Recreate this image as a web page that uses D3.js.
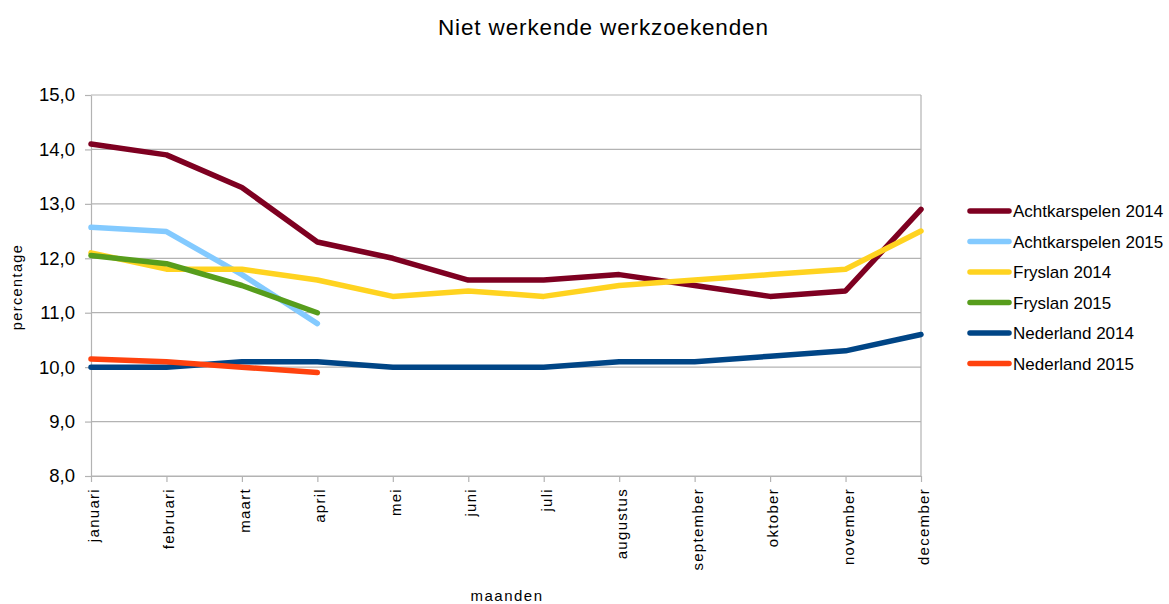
<!DOCTYPE html>
<html>
<head>
<meta charset="utf-8">
<script src="https://cdn.jsdelivr.net/npm/d3@7"></script>
<style>
  body { margin: 0; background: #fff; }
  text { font-family: "Liberation Sans", Arial, sans-serif; fill: #000; }
</style>
</head>
<body>
<svg id="chart" width="1169" height="604"></svg>
<script>
const months = ['januari', 'februari', 'maart', 'april', 'mei', 'juni', 'juli',
  'augustus', 'september', 'oktober', 'november', 'december'];
const yTicks = [8, 9, 10, 11, 12, 13, 14, 15];

const achtkarspelen2014 = [14.1, 13.9, 13.3, 12.3, 12.0, 11.6, 11.6, 11.7, 11.5, 11.3, 11.4, 12.9];
const achtkarspelen2015 = [12.57, 12.49, 11.7, 10.8];
const fryslan2014 = [12.1, 11.8, 11.8, 11.6, 11.3, 11.4, 11.3, 11.5, 11.6, 11.7, 11.8, 12.5];
const fryslan2015 = [12.05, 11.9, 11.5, 11.0];
const nederland2014 = [10.0, 10.0, 10.1, 10.1, 10.0, 10.0, 10.0, 10.1, 10.1, 10.2, 10.3, 10.6];
const nederland2015 = [10.15, 10.1, 10.0, 9.9];

const series = [
  { name: 'Achtkarspelen 2014', color: '#7e0021', values: achtkarspelen2014 },
  { name: 'Achtkarspelen 2015', color: '#83caff', values: achtkarspelen2015 },
  { name: 'Fryslan 2014', color: '#ffd320', values: fryslan2014 },
  { name: 'Fryslan 2015', color: '#579d1c', values: fryslan2015 },
  { name: 'Nederland 2014', color: '#004586', values: nederland2014 },
  { name: 'Nederland 2015', color: '#ff420e', values: nederland2015 }
];

const svg = d3.select('#chart');
const plotL = 91, plotR = 921, plotT = 95, plotB = 476;

const x = d3.scalePoint().domain(months).range([plotL, plotR]);
const y = d3.scaleLinear().domain([8, 15]).range([plotB, plotT]);
const fmt = d => d3.format('.1f')(d).replace('.', ',');

// grid
svg.append('g').selectAll('line')
  .data(yTicks)
  .join('line')
  .attr('x1', plotL).attr('x2', plotR)
  .attr('y1', d => y(d)).attr('y2', d => y(d))
  .attr('stroke', '#b3b3b3').attr('stroke-width', 1.2);

svg.append('line')
  .attr('x1', plotR).attr('x2', plotR).attr('y1', plotT).attr('y2', plotB)
  .attr('stroke', '#b3b3b3').attr('stroke-width', 1.2);

// y axis
const yAxis = svg.append('g')
  .attr('transform', `translate(${plotL},0)`)
  .call(d3.axisLeft(y).tickValues(yTicks).tickFormat(fmt).tickSize(6).tickSizeOuter(0).tickPadding(10));
yAxis.selectAll('path, line').attr('stroke', '#b3b3b3').attr('stroke-width', 1.2);
yAxis.selectAll('text').style('font-size', '18.5px').attr('fill', '#000');

// x axis
const xAxis = svg.append('g')
  .attr('transform', `translate(0,${plotB})`)
  .call(d3.axisBottom(x).tickSize(6).tickSizeOuter(0));
xAxis.select('.domain').attr('stroke', '#b3b3b3').attr('stroke-width', 1.2);
xAxis.selectAll('line').attr('stroke', '#b3b3b3').attr('stroke-width', 1.2);
xAxis.selectAll('text')
  .style('font-size', '15px')
  .style('letter-spacing', '1.3px')
  .attr('fill', '#000')
  .attr('transform', 'rotate(-90)')
  .attr('text-anchor', 'end')
  .attr('x', -12)
  .attr('y', 0)
  .attr('dy', '0.5em');

// lines
const line = d3.line()
  .x((d, i) => x(months[i]))
  .y(d => y(d));

svg.append('g').selectAll('path')
  .data(series)
  .join('path')
  .attr('d', d => line(d.values))
  .attr('fill', 'none')
  .attr('stroke', d => d.color)
  .attr('stroke-width', 5.5)
  .attr('stroke-linejoin', 'round')
  .attr('stroke-linecap', 'round');

// titles
svg.append('text')
  .attr('x', 603).attr('y', 35)
  .attr('text-anchor', 'middle')
  .attr('textLength', 330)
  .attr('lengthAdjust', 'spacing')
  .style('font-size', '22.5px')
  .text('Niet werkende werkzoekenden');

svg.append('text')
  .attr('x', 507).attr('y', 601)
  .attr('text-anchor', 'middle')
  .style('font-size', '15px')
  .style('letter-spacing', '1.5px')
  .text('maanden');

svg.append('text')
  .attr('transform', 'translate(22,287) rotate(-90)')
  .attr('text-anchor', 'middle')
  .style('font-size', '14.5px')
  .style('letter-spacing', '1.4px')
  .text('percentage');

// legend
const legend = svg.append('g')
  .selectAll('g')
  .data(series)
  .join('g')
  .attr('transform', (d, i) => `translate(970,${211 + i * 30.5})`);

legend.append('line')
  .attr('x1', 0).attr('x2', 39)
  .attr('stroke', d => d.color)
  .attr('stroke-width', 5.5)
  .attr('stroke-linecap', 'round');

legend.append('text')
  .attr('x', 43)
  .attr('dy', '0.36em')
  .style('font-size', '17px')
  .text(d => d.name);
</script>
</body>
</html>
